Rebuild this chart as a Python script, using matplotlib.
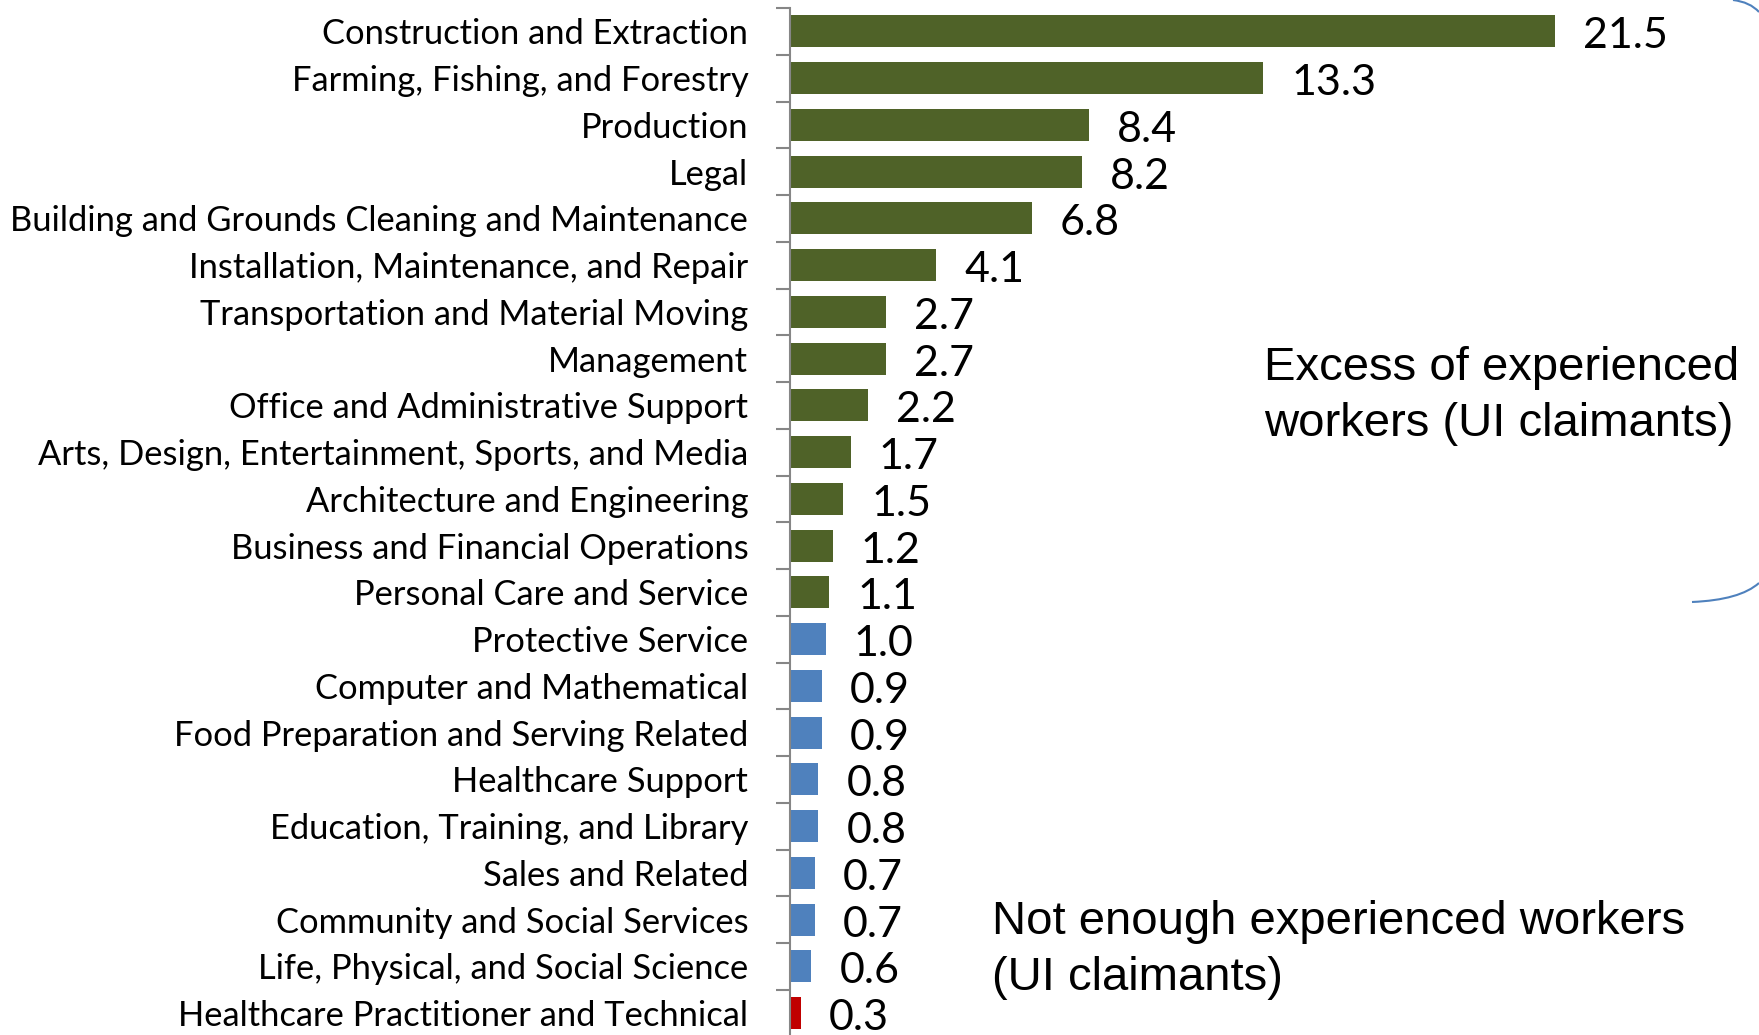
import matplotlib.pyplot as plt
from matplotlib.path import Path
from matplotlib.patches import PathPatch

occupations = [
    "Construction and Extraction",
    "Farming, Fishing, and Forestry",
    "Production",
    "Legal",
    "Building and Grounds Cleaning and Maintenance",
    "Installation, Maintenance, and Repair",
    "Transportation and Material Moving",
    "Management",
    "Office and Administrative Support",
    "Arts, Design, Entertainment, Sports, and Media",
    "Architecture and Engineering",
    "Business and Financial Operations",
    "Personal Care and Service",
    "Protective Service",
    "Computer and Mathematical",
    "Food Preparation and Serving Related",
    "Healthcare Support",
    "Education, Training, and Library",
    "Sales and Related",
    "Community and Social Services",
    "Life, Physical, and Social Science",
    "Healthcare Practitioner and Technical",
]
ratios = [21.5, 13.3, 8.4, 8.2, 6.8, 4.1, 2.7, 2.7, 2.2, 1.7, 1.5, 1.2, 1.1,
          1.0, 0.9, 0.9, 0.8, 0.8, 0.7, 0.7, 0.6, 0.3]

GREEN = "#4F6228"
BLUE = "#4F81BD"
RED = "#C00000"


def bar_color(v):
    if v > 1.0:
        return GREEN
    if v < 0.5:
        return RED
    return BLUE


W, H = 1759, 1035
fig = plt.figure(figsize=(W / 100, H / 100), dpi=100)
ax = fig.add_axes([790 / W, -1.5 / H, (W - 790) / W, (1035 - 8 + 1.5) / H])

y = list(range(len(occupations)))
ax.barh(y, ratios, height=0.68, color=[bar_color(v) for v in ratios])

ax.set_xlim(0, (W - 790) / 35.6)
ax.set_ylim(len(occupations) - 0.5, -0.5)

for yi, v in zip(y, ratios):
    ax.annotate(f"{v:.1f}", (v, yi), xytext=(28, -5), textcoords="offset pixels",
                va="center", ha="left", fontsize=31, family="Lato", color="black")

ax.set_yticks(y)
ax.set_yticklabels(occupations, family="Lato", fontsize=24.8)
ax.set_yticks([i - 0.5 for i in range(len(occupations) + 1)], minor=True)
ax.tick_params(axis="y", which="major", length=0, pad=30)
ax.tick_params(axis="y", which="minor", length=10, width=1.5, color="#868686", direction="out")
ax.set_xticks([])

for s in ["top", "right", "bottom"]:
    ax.spines[s].set_visible(False)
ax.spines["left"].set_color("#868686")
ax.spines["left"].set_linewidth(1.5)

fig.text(1264 / W, 1 - 396 / H, "Excess of experienced\nworkers (UI claimants)",
         family="Liberation Sans", fontsize=34, va="center", ha="left", linespacing=1.36)
fig.text(992 / W, 1 - 950 / H, "Not enough experienced workers\n(UI claimants)",
         family="Liberation Sans", fontsize=34, va="center", ha="left", linespacing=1.36)

# partial outline on the right edge
top_arc = Path([(1733, H), (1750, H - 2), (1759, H - 12)],
               [Path.MOVETO, Path.CURVE3, Path.CURVE3])
bottom_arc = Path([(1692, H - 602), (1740, H - 600), (1759, H - 583)],
                  [Path.MOVETO, Path.CURVE3, Path.CURVE3])
for p in (top_arc, bottom_arc):
    fig.patches.append(PathPatch(p, transform=None, fill=False, edgecolor="#4F81BD", lw=1.5))

fig.savefig("out.png", dpi=100)
